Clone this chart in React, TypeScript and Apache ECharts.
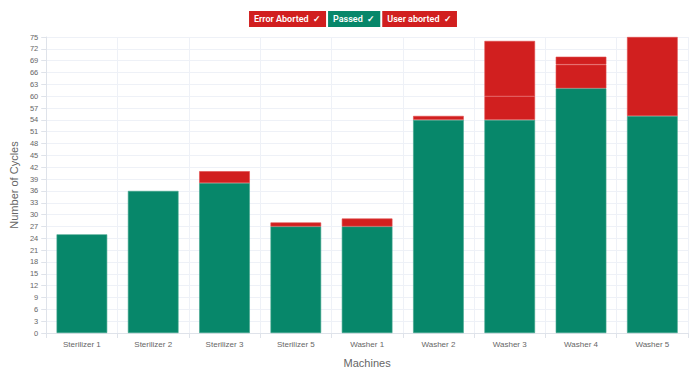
import React, { useEffect, useRef } from "react";
import * as echarts from "echarts";

const machines = [
  "Sterilizer 1",
  "Sterilizer 2",
  "Sterilizer 3",
  "Sterilizer 5",
  "Washer 1",
  "Washer 2",
  "Washer 3",
  "Washer 4",
  "Washer 5",
];
const passed = [25, 36, 38, 27, 27, 54, 54, 62, 55];
const errorAborted = [0, 0, 3, 1, 2, 1, 6, 6, 0];
const userAborted = [0, 0, 0, 0, 0, 0, 14, 2, 20];

const GREEN = "#07876a";
const RED = "#d11f1f";

export default function App() {
  const ref = useRef<HTMLDivElement>(null);
  useEffect(() => {
    if (!ref.current) return;
    const chart = echarts.init(ref.current, null, { renderer: "svg" });
    const labelFont = "Liberation Sans, Arial, sans-serif";
    const legendItem = (name: string, color: string) => ({
      name,
      textStyle: {
        backgroundColor: color,
        color: "#fff",
        padding: [4, 5, 3, 5],
        fontSize: 9,
        fontWeight: 600,
        fontFamily: "Roboto, Noto Sans, sans-serif",
      },
    });
    const barSeries = (name: string, data: number[], color: string) => ({
      name,
      type: "bar",
      stack: "total",
      data: data.map((v) => (v === 0 ? "-" : v)),
      barWidth: "71%",
      itemStyle: {
        color,
        borderColor: color === GREEN ? "#3fa58b" : "#e04a4a",
        borderWidth: 0.6,
      },
      emphasis: { disabled: true },
    });
    chart.setOption({
      animation: false,
      legend: {
        top: 6,
        left: "center",
        itemWidth: 0,
        itemHeight: 0,
        itemGap: -4,
        selectedMode: false,
        formatter: (n: string) => n + "  \u2713",
        data: [
          legendItem("Error Aborted", RED),
          legendItem("Passed", GREEN),
          legendItem("User aborted", RED),
        ],
      },
      grid: { left: 41, right: 12, top: 37, bottom: 36, containLabel: false },
      xAxis: {
        type: "category",
        data: machines,
        name: "Machines",
        nameLocation: "middle",
        nameGap: 24,
        nameTextStyle: { color: "#666", fontSize: 11, fontFamily: labelFont },
        axisLine: { show: true, lineStyle: { color: "#dfe3ea" } },
        axisTick: { show: true, length: 5, lineStyle: { color: "#dfe3ea" } },
        axisLabel: { color: "#666", fontSize: 8, fontFamily: labelFont, margin: 7 },
        splitLine: { show: true, lineStyle: { color: "#eef1f7" } },
      },
      yAxis: {
        type: "value",
        min: 0,
        max: 75,
        interval: 3,
        name: "Number of Cycles",
        nameLocation: "middle",
        nameGap: 23,
        nameTextStyle: { color: "#666", fontSize: 11, fontFamily: labelFont },
        axisLine: { show: true, lineStyle: { color: "#dfe3ea" } },
        axisTick: { show: true, length: 5, lineStyle: { color: "#dfe3ea" } },
        axisLabel: { color: "#666", fontSize: 7.5, fontFamily: labelFont, margin: 8 },
        splitLine: { show: true, lineStyle: { color: "#eef1f7" } },
      },
      series: [
        barSeries("Passed", passed, GREEN),
        barSeries("Error Aborted", errorAborted, RED),
        barSeries("User aborted", userAborted, RED),
      ],
    });
    return () => chart.dispose();
  }, []);
  return (
    <div
      ref={ref}
      style={{ position: "absolute", left: 0, top: 0, width: 700, height: 373 }}
    />
  );
}
